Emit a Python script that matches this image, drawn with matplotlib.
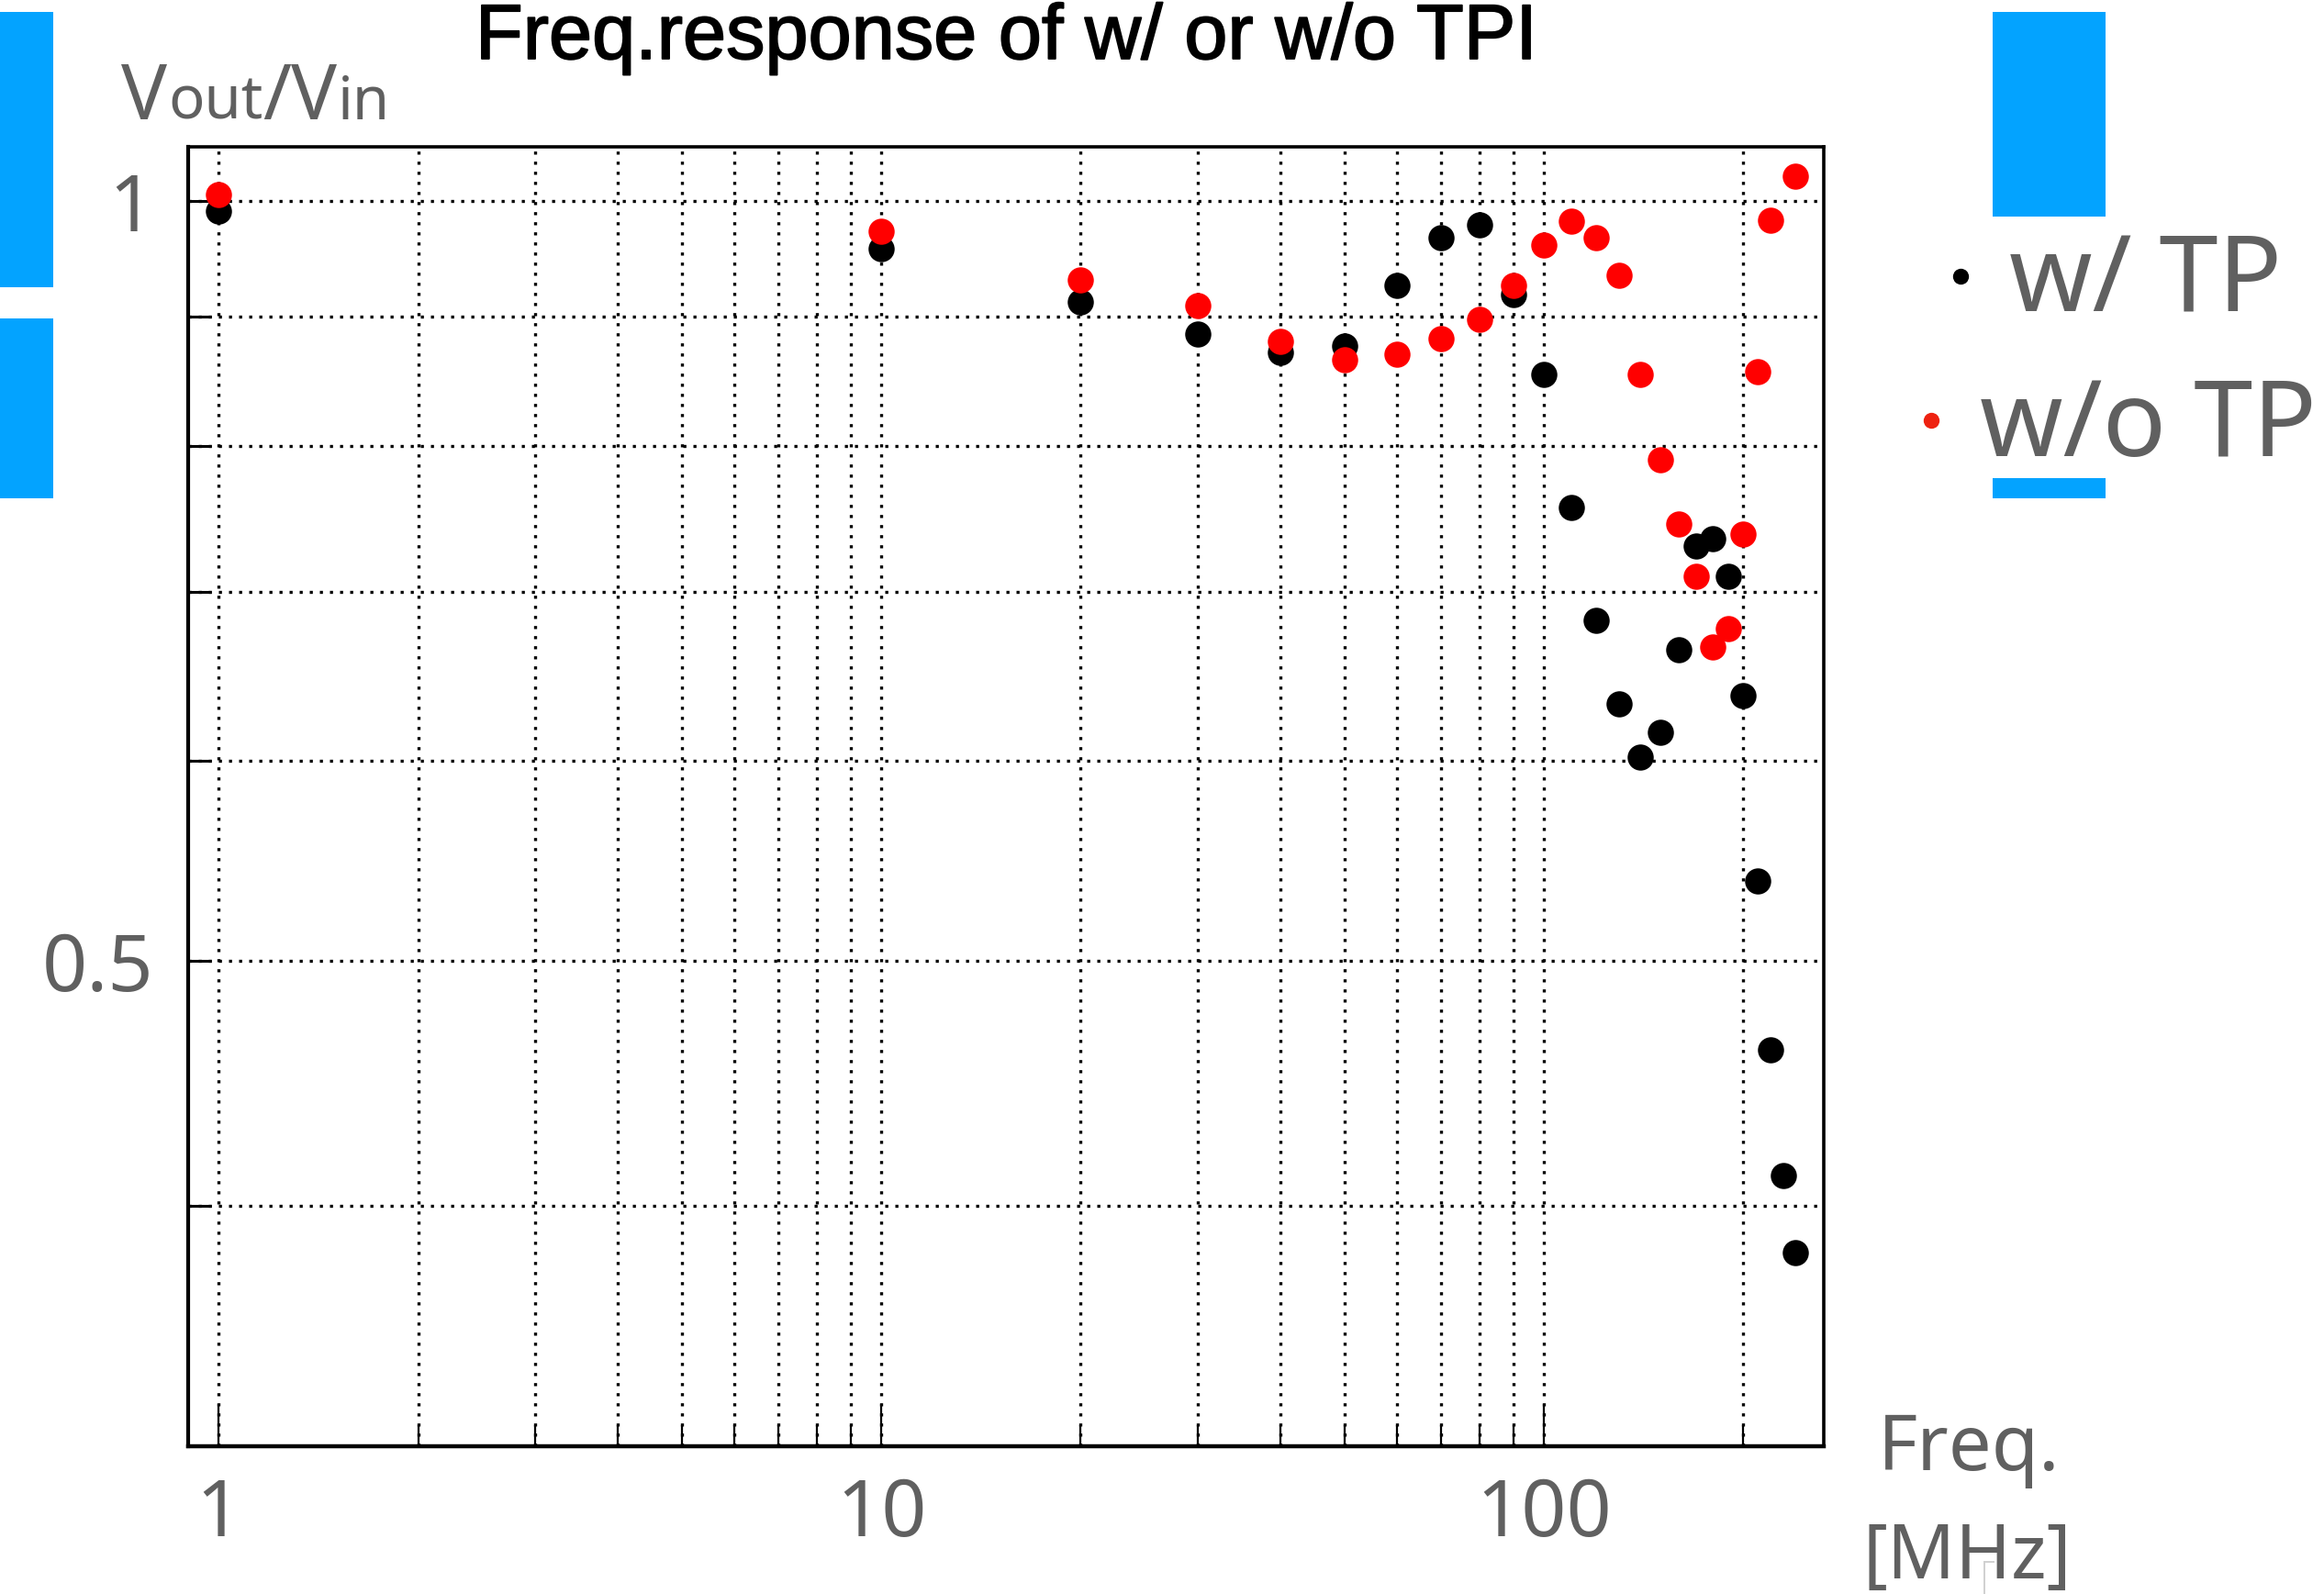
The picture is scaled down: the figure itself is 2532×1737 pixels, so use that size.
import matplotlib
matplotlib.use("Agg")
import matplotlib.pyplot as plt
import matplotlib.patheffects as pe
from matplotlib import font_manager
from matplotlib.patches import Rectangle
from matplotlib.lines import Line2D
from matplotlib.ticker import NullFormatter

# ---------------- data ----------------
freq_tp = [1, 10, 20, 30, 40, 50, 60, 70, 80, 90, 100, 110, 120, 130, 140,
           150, 160, 170, 180, 190, 200, 210, 220, 230, 240]
gain_tp = [0.991, 0.958, 0.912, 0.886, 0.871, 0.876, 0.926, 0.967, 0.979, 0.918,
           0.854, 0.756, 0.682, 0.632, 0.602, 0.616, 0.664, 0.730, 0.735, 0.710,
           0.637, 0.538, 0.461, 0.411, 0.383]

freq_notp = [1, 10, 20, 30, 40, 50, 60, 70, 80, 90, 100, 110, 120, 130, 140,
             150, 160, 170, 180, 190, 200, 210, 220, 240]
gain_notp = [1.006, 0.973, 0.931, 0.909, 0.880, 0.865, 0.870, 0.882, 0.898, 0.926,
             0.961, 0.982, 0.967, 0.935, 0.854, 0.790, 0.745, 0.710, 0.666, 0.677,
             0.738, 0.856, 0.983, 1.023]

x_major = [1, 10, 100]
x_major_labels = ["1", "10", "100"]
x_minor = [2, 3, 4, 5, 6, 7, 8, 9, 20, 30, 40, 50, 60, 70, 80, 90, 200]
y_major = [0.5, 1.0]
y_major_labels = ["0.5", "1"]
y_minor = [0.4, 0.6, 0.7, 0.8, 0.9]

title = "Freq.response of w/ or w/o TPI"
label_tp = "w/ TP"
label_notp = "w/o TP"

# ---------------- fonts ----------------
names = {f.name for f in font_manager.fontManager.ttflist}
GRAY_FONT = "Noto Sans" if "Noto Sans" in names else "DejaVu Sans"
TITLE_FONT = "Liberation Sans" if "Liberation Sans" in names else "DejaVu Sans"

plt.rcParams["font.family"] = [GRAY_FONT, "DejaVu Sans"]

GRAY = "#606060"
BLUE = "#03A3FF"

W, H, DPI = 2532, 1737, 100
fig = plt.figure(figsize=(W / DPI, H / DPI), dpi=DPI)
fig.patch.set_facecolor("white")


def fx(px):
    return px / W


def fy(py):
    return 1 - py / H


# axes in pixel box: left 205, right 1987, top 160, bottom 1576
ax = fig.add_axes([fx(205), fy(1576), fx(1987) - fx(205), (1576 - 160) / H])
ax.set_xscale("log")
ax.set_yscale("log")

ax.plot(freq_tp, gain_tp, linestyle="none", marker="o", ms=20.5, mew=0,
        color="black", zorder=3)
ax.plot(freq_notp, gain_notp, linestyle="none", marker="o", ms=20.5, mew=0,
        color="#ff0000", zorder=4)

ax.set_xlim(0.8992, 264.6)
ax.set_ylim(0.3211, 1.0509)

ax.set_xticks(x_major, labels=x_major_labels)
ax.set_xticks(x_minor, minor=True)
ax.xaxis.set_minor_formatter(NullFormatter())
ax.set_yticks(y_major, labels=y_major_labels)
ax.set_yticks(y_minor, minor=True)
ax.yaxis.set_minor_formatter(NullFormatter())

ax.tick_params(axis="x", which="major", direction="in", length=33, width=1.6,
               top=False, bottom=True, pad=24, labelsize=62, labelcolor=GRAY)
ax.tick_params(axis="x", which="minor", direction="in", length=16.5, width=1.6,
               top=False, bottom=True)
ax.tick_params(axis="y", which="both", direction="in", length=18, width=2.2,
               right=False, left=True, pad=27, labelsize=62, labelcolor=GRAY)
for lab in ax.get_xticklabels() + ax.get_yticklabels():
    lab.set_fontweight("light")

ax.set_axisbelow(True)
ax.grid(True, which="both", color="black", linestyle=(0, (1.0, 2.3)),
        linewidth=2.4)

for side, lw in (("left", 3.0), ("bottom", 3.2), ("top", 2.6), ("right", 2.6)):
    ax.spines[side].set_linewidth(lw)
    ax.spines[side].set_color("black")

# ---------------- title ----------------
fig.text(fx(518), fy(64), title, fontsize=61, family=TITLE_FONT,
         color="black", ha="left", va="baseline",
         path_effects=[pe.withStroke(linewidth=1.3, foreground="black")])

# ---------------- y label: Vout/Vin (laid out piece by piece) ----------------
renderer = fig.canvas.get_renderer()
big_kw = dict(color=GRAY, ha="left", va="baseline", family=GRAY_FONT,
              fontsize=60, fontweight="light")
small_kw = dict(color=GRAY, ha="left", va="baseline", family=GRAY_FONT,
                fontsize=47, fontweight="light")
xcur = 132.0
for piece, kw, gap in (("V", big_kw, 1), ("out", small_kw, 0), ("/", big_kw, 0),
                       ("V", big_kw, 1), ("in", small_kw, 0)):
    t = fig.text(fx(xcur), fy(130), piece, **kw)
    bb = t.get_window_extent(renderer)
    xcur = bb.x1 + gap

# ---------------- x label ----------------
fig.text(fx(2046), fy(1602), "Freq.", color=GRAY, fontsize=60,
         fontweight="light", ha="left", va="baseline")
fig.text(fx(2030), fy(1720), "[MHz]", color=GRAY, fontsize=59,
         fontweight="light", ha="left", va="baseline")
fig.add_artist(Line2D([fx(2162), fx(2162)], [fy(1702), fy(1737)],
                      color="#d0d0d0", lw=1.4, transform=fig.transFigure))
fig.add_artist(Line2D([fx(2162), fx(2172)], [fy(1702), fy(1702)],
                      color="#d0d0d0", lw=1.4, transform=fig.transFigure))

# ---------------- legend ----------------
fig.add_artist(Line2D([fx(2136)], [fy(301)], marker="o", ms=12.5, mew=0,
                      color="black", linestyle="none",
                      transform=fig.transFigure))
fig.text(fx(2189), fy(340), label_tp, color=GRAY, fontsize=83,
         fontweight="light", ha="left", va="baseline")
fig.add_artist(Line2D([fx(2104)], [fy(458)], marker="o", ms=12.5, mew=0,
                      color="#ee2211", linestyle="none",
                      transform=fig.transFigure))
fig.text(fx(2157), fy(497), label_notp, color=GRAY, fontsize=83,
         fontweight="light", ha="left", va="baseline")

# ---------------- blue slide artefacts ----------------
for (x0, y0, x1, y1) in [(0, 13, 58, 313), (0, 347, 58, 543),
                         (2171, 13, 2294, 236), (2171, 521, 2294, 543)]:
    fig.add_artist(Rectangle((fx(x0), fy(y1)), fx(x1) - fx(x0), (y1 - y0) / H,
                             transform=fig.transFigure, color=BLUE, lw=0))

fig.savefig("out.png", dpi=DPI, facecolor="white")
